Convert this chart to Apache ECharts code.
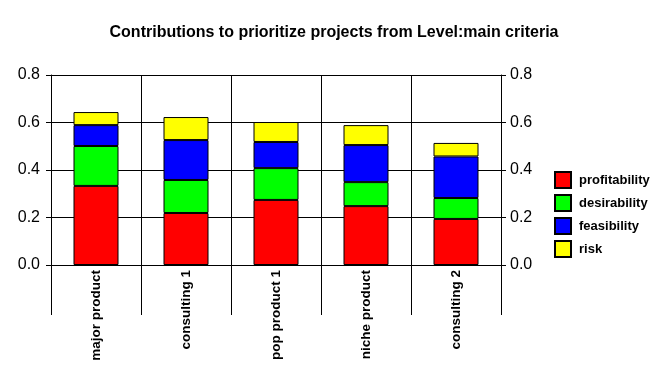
<!DOCTYPE html>
<html>
<head>
<meta charset="utf-8">
<script src="https://cdn.jsdelivr.net/npm/echarts@6/dist/echarts.min.js"></script>
<style>html,body{margin:0;padding:0;background:#fff}#c{width:669px;height:380px}</style>
</head>
<body>
<div id="c"></div>
<script>
const categories = ['major product', 'consulting 1', 'pop product 1', 'niche product', 'consulting 2'];
const profitability = [0.333, 0.219, 0.274, 0.248, 0.194];
const desirability = [0.168, 0.139, 0.134, 0.101, 0.088];
const feasibility = [0.088, 0.168, 0.110, 0.156, 0.175];
const risk = [0.055, 0.097, 0.084, 0.084, 0.057];
const yTicks = [0, 0.2, 0.4, 0.6, 0.8];

const font = 'Liberation Sans, Arial, sans-serif';
const chart = echarts.init(document.getElementById('c'));
function bar(name, data, color) {
  return {
    name, type: 'bar', stack: 'total', data, barWidth: '50%',
    itemStyle: { color, borderColor: '#000', borderWidth: 1 },
    emphasis: { disabled: true }
  };
}
const yAxisBase = {
  type: 'value', min: yTicks[0], max: yTicks[yTicks.length - 1], interval: 0.2,
  axisLine: { show: true, lineStyle: { color: '#000', width: 1 } },
  axisTick: { show: true, length: 5, lineStyle: { color: '#000' } },
  axisLabel: { color: '#000', fontFamily: font, fontSize: 16, formatter: v => v.toFixed(1) }
};
chart.setOption({
  backgroundColor: '#fff',
  animation: false,
  title: {
    text: 'Contributions to prioritize projects from Level:main criteria',
    left: 334, top: 25, textAlign: 'center', padding: 0,
    textStyle: { fontFamily: font, fontSize: 16, fontWeight: 'bold', color: '#000' }
  },
  legend: {
    orient: 'vertical', left: 554, top: 171, padding: 0, itemWidth: 16, itemHeight: 16, itemGap: 5,
    icon: 'rect',
    textStyle: { fontFamily: font, fontSize: 13, fontWeight: 'bold', color: '#000', lineHeight: 16, padding: [0, 0, 0, 3] },
    data: ['profitability', 'desirability', 'feasibility', 'risk']
  },
  grid: { left: 51, right: 168, top: 75, bottom: 115 },
  xAxis: {
    type: 'category', data: categories, boundaryGap: true,
    axisLine: { show: true, lineStyle: { color: '#000' } },
    axisTick: { show: true, length: 50, lineStyle: { color: '#000' } },
    splitLine: { show: true, lineStyle: { color: '#000' } },
    axisLabel: { rotate: 90, color: '#000', fontFamily: font, fontSize: 13.5, fontWeight: 'bold', margin: 5, interval: 0 }
  },
  yAxis: [
    Object.assign({}, yAxisBase, { position: 'left', axisLabel: Object.assign({}, yAxisBase.axisLabel, { margin: 11 }), splitLine: { show: true, lineStyle: { color: '#000' } } }),
    Object.assign({}, yAxisBase, { position: 'right', axisLabel: Object.assign({}, yAxisBase.axisLabel, { margin: 9 }), splitLine: { show: false } })
  ],
  series: [
    bar('profitability', profitability, '#ff0000'),
    bar('desirability', desirability, '#00ff00'),
    bar('feasibility', feasibility, '#0000ff'),
    bar('risk', risk, '#ffff00')
  ]
});
</script>
</body>
</html>
